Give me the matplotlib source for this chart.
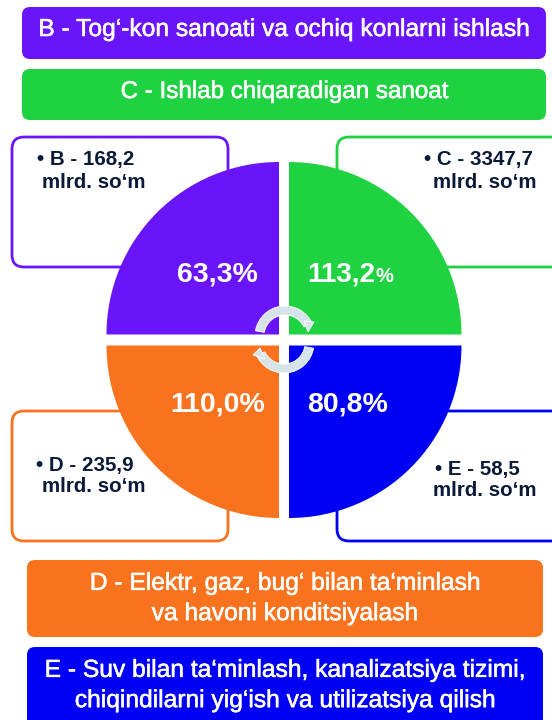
import matplotlib
matplotlib.use('Agg')
import matplotlib.pyplot as plt
import matplotlib.patheffects as pe
from matplotlib.patches import FancyBboxPatch, Wedge, Polygon

plt.rcParams['font.family'] = ['Liberation Sans', 'DejaVu Sans']

# sectors, clockwise from top left
sectors = ['B', 'C', 'E', 'D']
colors = ['#6a14fa', '#1ed241', '#0000f5', '#f9721d']
percent = ['63,3', '113,2', '80,8', '110,0']
amounts = ['168,2', '3347,7', '58,5', '235,9']
unit = 'mlrd. so‘m'
banner_b = 'B - Tog‘-kon sanoati va ochiq konlarni ishlash'
banner_c = 'C - Ishlab chiqaradigan sanoat'
banner_d = 'D - Elektr, gaz, bug‘ bilan ta‘minlash\nva havoni konditsiyalash'
banner_e = 'E - Suv bilan ta‘minlash, kanalizatsiya tizimi,\nchiqindilarni yig‘ish va utilizatsiya qilish'
TEXT_DARK = '#0b1a38'
ARROW = '#d6e4ea'

fig = plt.figure(figsize=(5.52, 7.2), dpi=100)
ax = fig.add_axes([0, 0, 1, 1])
ax.set_xlim(0, 552)
ax.set_ylim(720, 0)  # pixel coordinates, y goes down
ax.axis('off')


def banner(x0, x1, y0, y1, color, label, size, text_y=None):
    ax.add_patch(FancyBboxPatch((x0 + 8, y0 + 8), x1 - x0 - 16, y1 - y0 - 16,
                                boxstyle='round,pad=8,rounding_size=8',
                                fc=color, ec='none', zorder=1))
    if text_y is None:
        text_y = (y0 + y1) / 2
    t = ax.text((x0 + x1) / 2, text_y, label, color='white', fontsize=size,
                ha='center', va='center', linespacing=1.33, zorder=2)
    t.set_path_effects([pe.withStroke(linewidth=0.4, foreground='white')])


def side_box(x0, x1, y0, y1, color):
    ax.add_patch(FancyBboxPatch((x0 + 12, y0 + 12), x1 - x0 - 24, y1 - y0 - 24,
                                boxstyle='round,pad=12,rounding_size=12',
                                fc='white', ec=color, lw=2, zorder=1))


def box_text(x1, y1, x2, y2, name, amount):
    ax.text(x1, y1, f'• {name} - {amount}', color=TEXT_DARK, fontsize=14.8,
            fontweight='bold', ha='left', va='center', zorder=4)
    ax.text(x2, y2, unit, color=TEXT_DARK, fontsize=14.8,
            fontweight='bold', ha='left', va='center', zorder=4)


banner(22, 546, 7, 59, colors[0], banner_b, 17.7, 29)
banner(22, 546, 69, 120, colors[1], banner_c, 17.4, 92)
banner(27, 543, 560, 637, colors[3], banner_d, 17.7, 598)
banner(27, 543, 647, 728, colors[2], banner_e, 17.7, 685)

side_box(12, 228, 137, 267, colors[0])
side_box(337, 570, 137, 267, colors[1])
side_box(337, 570, 411, 541, colors[2])
side_box(12, 228, 411, 541, colors[3])

box_text(37, 160, 42, 183, sectors[0], amounts[0])
box_text(424, 160, 433, 183, sectors[1], amounts[1])
box_text(435, 469, 433, 490, sectors[2], amounts[2])
box_text(36, 466, 42, 486, sectors[3], amounts[3])

# four quarters, the angles are flipped because of the inverted y axis
R = 172.5
ax.add_patch(Wedge((279, 334.5), R, 180, 270, fc=colors[0], ec='none', zorder=2))
ax.add_patch(Wedge((289, 334.5), R, 270, 360, fc=colors[1], ec='none', zorder=2))
ax.add_patch(Wedge((289, 345.5), R, 0, 90, fc=colors[2], ec='none', zorder=2))
ax.add_patch(Wedge((279, 345.5), R, 90, 180, fc=colors[3], ec='none', zorder=2))

# percent labels
big = dict(color='white', fontweight='bold', va='center', zorder=4)
ax.text(217, 275, percent[0] + '%', fontsize=20.5, ha='center', **big)
ax.text(375, 275, percent[1], fontsize=20, ha='right', **big)
ax.text(375, 276, '%', fontsize=14.5, ha='left', **big)
ax.text(348, 404, percent[2] + '%', fontsize=20.5, ha='center', **big)
ax.text(218, 404, percent[3] + '%', fontsize=20.5, ha='center', **big)

# circular arrows in the middle
ax.add_patch(Wedge((285, 336), 30, 190, 335, width=9, fc=ARROW, ec='white', lw=0.6, zorder=3))
ax.add_patch(Polygon([[304, 321], [314, 322], [308, 332]], fc=ARROW, ec='white', lw=0.6, zorder=3))
ax.add_patch(Wedge((284, 343), 30, 10, 155, width=9, fc=ARROW, ec='white', lw=0.6, zorder=3))
ax.add_patch(Polygon([[265, 359], [253, 355], [260, 348]], fc=ARROW, ec='white', lw=0.6, zorder=3))

fig.savefig('out.png', dpi=100)
